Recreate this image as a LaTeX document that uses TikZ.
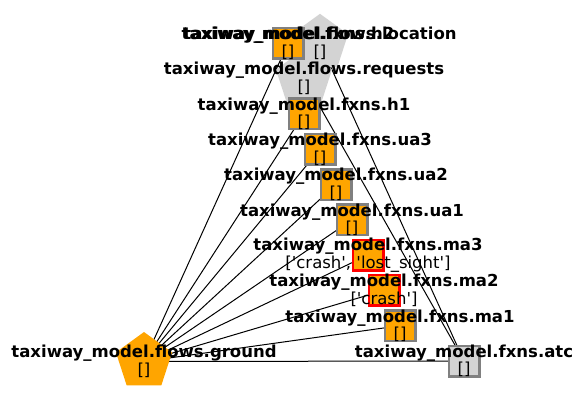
\documentclass[tikz,border=0pt]{standalone}
\usepackage{fontspec}
\setmainfont{DejaVu Sans}
\usetikzlibrary{shapes.geometric}
\pgfdeclarelayer{background}
\pgfsetlayers{background,main}
\definecolor{forange}{HTML}{FFA500}
\definecolor{flgray}{HTML}{D3D3D3}
\definecolor{fgray}{HTML}{808080}
\definecolor{fred}{HTML}{FF0000}
\newcommand{\qq}{\textquotesingle}
\begin{document}
\begin{tikzpicture}[x=1pt,y=-1pt,
  fxn/.style={rectangle, draw=fgray, line width=2.5pt, fill=forange, minimum size=30.5pt, inner sep=0pt},
  fxnbad/.style={fxn, draw=fred},
  fxngray/.style={fxn, fill=flgray},
  flow/.style={regular polygon, regular polygon sides=5, fill=forange, minimum size=59pt, inner sep=0pt},
  flowgray/.style={flow, fill=flgray},
  lab/.style={align=center, inner sep=0pt, text=black, font=\fontsize{16.5}{17.6}\selectfont},
  edge/.style={line width=1pt, black}]
\useasboundingbox (0,0) rectangle (584,405);
% flows
\node[flowgray] (location) at (320,43.3) {};
\node[flowgray] (requests) at (304,78.6) {};
\node[flow] (ground) at (144,361.5) {};
% functions
\node[fxn] (h2) at (288,43.3) {};
\node[fxn] (h1) at (304,113.9) {};
\node[fxn] (ua3) at (320,149.2) {};
\node[fxn] (ua2) at (336,184.5) {};
\node[fxn] (ua1) at (352,219.8) {};
\node[fxnbad] (ma3) at (368,255.1) {};
\node[fxnbad] (ma2) at (384,290.4) {};
\node[fxn] (ma1) at (400,325.7) {};
\node[fxngray] (atc) at (464,361) {};
% edges
\begin{pgfonlayer}{background}
\foreach \t in {h2,h1,ua3,ua2,ua1,ma3,ma2,ma1,atc}
  \draw[edge] (ground.center) -- (\t.center);
\draw[edge] (atc.center) -- (location.center);
\draw[edge] (atc.center) -- (requests.center);
\end{pgfonlayer}
% labels
\node[lab] (location-l) at (location) {\textbf{taxiway\_model.flows.location}\\{[]}};
\node[lab] (h2-l) at (h2) {\textbf{taxiway\_model.fxns.h2}\\{[]}};
\node[lab] (requests-l) at (requests) {\textbf{taxiway\_model.flows.requests}\\{[]}};
\node[lab] (h1-l) at (h1) {\textbf{taxiway\_model.fxns.h1}\\{[]}};
\node[lab] (ua3-l) at (ua3) {\textbf{taxiway\_model.fxns.ua3}\\{[]}};
\node[lab] (ua2-l) at (ua2) {\textbf{taxiway\_model.fxns.ua2}\\{[]}};
\node[lab] (ua1-l) at (ua1) {\textbf{taxiway\_model.fxns.ua1}\\{[]}};
\node[lab] (ma3-l) at (ma3) {\textbf{taxiway\_model.fxns.ma3}\\{[\qq crash\qq, \qq lost\_sight\qq]}};
\node[lab] (ma2-l) at (ma2) {\textbf{taxiway\_model.fxns.ma2}\\{[\qq crash\qq]}};
\node[lab] (ma1-l) at (ma1) {\textbf{taxiway\_model.fxns.ma1}\\{[]}};
\node[lab] (ground-l) at (ground) {\textbf{taxiway\_model.flows.ground}\\{[]}};
\node[lab] (atc-l) at (atc) {\textbf{taxiway\_model.fxns.atc}\\{[]}};
\end{tikzpicture}
\end{document}
